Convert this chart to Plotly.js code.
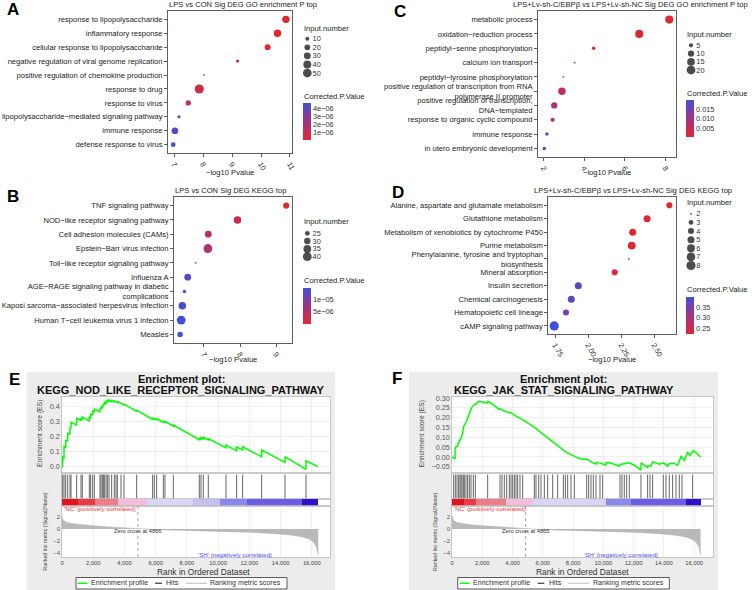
<!DOCTYPE html>
<html>
<head>
<meta charset="utf-8">
<script src="https://cdn.plot.ly/plotly-3.0.1.min.js"></script>
<style>
html,body{margin:0;padding:0;background:#fff;}
#chart{width:753px;height:590px;}
</style>
</head>
<body>
<div id="chart"></div>
<script>
// ================= DATA =================
// Panel A: LPS vs CON, GO enrichment
const termsA = ['response to lipopolysaccharide','inflammatory response','cellular response to lipopolysaccharide','negative regulation of viral genome replication','positive regulation of chemokine production','response to drug','response to virus','lipopolysaccharide\u2212mediated signaling pathway','immune response','defense response to virus'];
const logPA  = [10.86,10.57,10.23,9.19,8.03,7.87,7.49,7.17,7.03,6.97];
const countA = [35,35,22,8,6,55,17,8,28,14];
const padjA  = [1e-9,5e-9,2e-8,3e-7,5e-7,6e-7,1.6e-6,3.2e-6,4.2e-6,4.7e-6];
const sizeKeysA = [10,20,30,40,50];
const cbValsA = [1e-6,2e-6,3e-6,4e-6];
const cbTextA = ['1e\u221206','2e\u221206','3e\u221206','4e\u221206'];

// Panel B: LPS vs CON, KEGG
const termsB = ['TNF signaling pathway','NOD\u2212like receptor signaling pathway','Cell adhesion molecules (CAMs)','Epstein\u2212Barr virus infection','Toll\u2212like receptor signaling pathway','Influenza A','AGE\u2212RAGE signaling pathway in diabetic<br>complications','Kaposi sarcoma\u2212associated herpesvirus infection','Human T\u2212cell leukemia virus 1 infection','Measles'];
const logPB  = [9.28,7.93,7.12,7.11,6.77,6.55,6.46,6.40,6.37,6.34];
const countB = [29,34,31,40,22,31,23,34,40,27];
const padjB  = [1e-8,2.2e-6,5e-6,5.8e-6,9.5e-6,1.3e-5,1.38e-5,1.4e-5,1.42e-5,1.43e-5];
const sizeKeysB = [25,30,35,40];
const cbValsB = [5e-6,1e-5];
const cbTextB = ['5e\u221206','1e\u221205'];

// Panel C: LPS+Lv-sh-C/EBPb vs LPS+Lv-sh-NC, GO
const termsC = ['metabolic process','oxidation\u2212reduction process','peptidyl\u2212serine phosphorylation','calcium ion transport','peptidyl\u2212tyrosine phosphorylation','positive regulation of transcription from RNA<br>polymerase II promoter','positive regulation of transcription,<br>DNA\u2212templated','response to organic cyclic compound','immune response','in utero embryonic development'];
const logPC  = [8.19,6.71,4.46,3.53,2.97,2.90,2.52,2.44,2.16,2.03];
const countC = [17,17,4,3,3,14,10,5,4,4];
const padjC  = [0.0007,0.001,0.002,0.003,0.003,0.0055,0.009,0.0105,0.0145,0.0197];
const sizeKeysC = [5,10,15,20];
const cbValsC = [0.005,0.010,0.015];
const cbTextC = ['0.005','0.010','0.015'];

// Panel D: LPS+Lv-sh-C/EBPb vs LPS+Lv-sh-NC, KEGG
const termsD = ['Alanine, aspartate and glutamate metabolism','Glutathione metabolism','Metabolism of xenobiotics by cytochrome P450','Purine metabolism','Phenylalanine, tyrosine and tryptophan<br>biosynthesis','Mineral absorption','Insulin secretion','Chemical carcinogenesis','Hematopoietic cell lineage','cAMP signaling pathway'];
const logPD  = [2.614,2.445,2.336,2.329,2.306,2.20,1.924,1.871,1.831,1.742];
const countD = [4,5,5,6,2,4,5,5,4,8];
const padjD  = [0.223,0.226,0.226,0.226,0.226,0.235,0.378,0.375,0.36,0.402];
const sizeKeysD = [2,3,4,5,6,7,8];
const cbValsD = [0.25,0.30,0.35];
const cbTextD = ['0.25','0.30','0.35'];

// Panel E: GSEA KEGG_NOD_LIKE_RECEPTOR_SIGNALING_PATHWAY  [rank, ES]
const esCurveE = [[0,0],[43,-0.003],[43,0.065],[128,0.06],[128,0.135],[235,0.129],[235,0.178],[363,0.17],[363,0.225],[512,0.216],[512,0.262],[577,0.258],[577,0.298],[940,0.276],[940,0.325],[1217,0.308],[1217,0.322],[1302,0.317],[1302,0.332],[1750,0.305],[1750,0.33],[1836,0.325],[1836,0.352],[1964,0.344],[1964,0.372],[2071,0.366],[2071,0.386],[2434,0.364],[2434,0.386],[2498,0.382],[2498,0.398],[2584,0.393],[2584,0.408],[2648,0.404],[2648,0.418],[2712,0.414],[2712,0.428],[2819,0.422],[2819,0.437],[2904,0.432],[2904,0.443],[3011,0.437],[3011,0.444],[3182,0.434],[3182,0.442],[3353,0.432],[3353,0.438],[3460,0.432],[3460,0.436],[3545,0.431],[3545,0.434],[3780,0.42],[3780,0.425],[3972,0.413],[3972,0.418],[4783,0.369],[4783,0.377],[5808,0.315],[5808,0.322],[5915,0.316],[5915,0.323],[6065,0.314],[6065,0.321],[6492,0.295],[6492,0.302],[6598,0.296],[6598,0.303],[7132,0.271],[7132,0.278],[8797,0.18],[8797,0.19],[8904,0.184],[8904,0.194],[9053,0.186],[9053,0.196],[9373,0.178],[9373,0.188],[10506,0.126],[10506,0.145],[11189,0.106],[11189,0.133],[11573,0.111],[11573,0.133],[12790,0.066],[12790,0.111],[14286,0.029],[14286,0.067],[15631,-0.018],[15631,0.04],[16400,0]];
const hitsE = [43,128,235,363,512,577,940,1217,1302,1750,1836,1964,2071,2434,2498,2584,2648,2712,2819,2904,3011,3182,3353,3460,3545,3780,3972,4783,5808,5915,6065,6492,6598,7132,8797,8904,9053,9373,10506,11189,11573,12790,14286,15631];
const stripEdgesE = [0,1050,2114,3609,5424,8413,10122,11830,15352,16400];
const stripColorsE = ['#E3121F','#EA3A45','#F07C8A','#F5BDDB','#D8D5F7','#C5BFF4','#8A87EE','#6C5DE6','#2F10CC'];
const zeroCrossE = 4866;

// Panel F: GSEA KEGG_JAK_STAT_SIGNALING_PATHWAY  [rank, ES]
const esCurveF = [[0,0],[200,-0.01],[215,0.05],[370,0.055],[400,0.07],[480,0.075],[530,0.09],[590,0.092],[650,0.11],[700,0.117],[760,0.155],[820,0.16],[920,0.175],[1030,0.2],[1100,0.217],[1150,0.23],[1250,0.242],[1360,0.258],[1410,0.262],[1470,0.262],[1545,0.27],[1580,0.268],[1690,0.28],[1850,0.282],[2020,0.279],[2356,0.275],[2360,0.282],[2460,0.28],[2680,0.268],[3120,0.242],[3170,0.245],[3560,0.23],[3890,0.225],[4220,0.208],[4670,0.19],[5100,0.167],[5550,0.145],[5980,0.117],[6320,0.098],[6650,0.08],[6860,0.067],[7200,0.045],[7530,0.025],[7970,0.008],[8410,-0.008],[8630,-0.012],[8900,-0.012],[9070,-0.017],[9290,-0.03],[9510,-0.037],[9520,-0.028],[9730,-0.03],[10170,-0.042],[10180,-0.03],[10390,-0.03],[10720,-0.037],[11050,-0.047],[11100,-0.038],[11380,-0.033],[11710,-0.03],[12040,-0.042],[12483,-0.067],[12490,-0.03],[12920,-0.053],[12930,-0.045],[13140,-0.047],[13260,-0.025],[13700,-0.037],[13960,-0.03],[14250,-0.047],[14360,-0.033],[14690,-0.033],[14910,-0.042],[15130,0.003],[15350,-0.017],[15570,0.025],[15720,0.008],[15940,0.033],[16420,0]];
const hitsF = [110,220,330,440,528,594,660,749,815,925,1035,1145,1255,1409,1541,2356,3170,3302,3457,3611,3787,3897,4007,4117,4227,4337,4491,4667,5438,5548,5724,5879,6099,6319,6649,6979,7354,7486,7640,7860,8080,8895,9027,9181,9335,9511,9775,9951,11096,11228,11382,11537,11713,12483,12923,13078,13254,13958,14134,14354,14574,14795,15015,15191,15896];
const stripEdgesF = [0,800,1585,3567,5328,10172,11823,15436,16420];
const stripColorsF = ['#E3121F','#EA3A45','#F07C8A','#F5BDDB','#D8D5F7','#8A87EE','#6C5DE6','#2F10CC'];
const zeroCrossF = 4865;

// Ranked list metric (Signal2Noise), shared ranking
const metricRank = [0,30,100,300,700,1200,2000,3000,4000,4866,6000,8000,10000,12000,13500,14500,15300,15800,16100,16300,16420];
const metricVal  = [2.2,1.7,1.35,1.05,0.85,0.7,0.52,0.33,0.15,0,-0.12,-0.25,-0.38,-0.55,-0.75,-0.95,-1.25,-1.6,-2.1,-2.9,-4.3];

const gseaLegendLabels = ['Enrichment profile','Hits','Ranking metric scores'];
const gseaLegendColors = ['#00FF00','#555555','#CCCCCC'];

// ================= STYLE HELPERS =================
const W = 753, H = 590;
const fx = p => p / W;
const fy = p => 1 - p / H;
const FONT = '"Liberation Sans", Arial, sans-serif';
const CSCALE = [[0,'#DC2A30'],[0.25,'#C42C5C'],[0.5,'#A03484'],[0.75,'#7440B0'],[1,'#3D50D6']];
function diam(n, lo, hi){ return 1.8 + 7.4*Math.sqrt(Math.max(0, n-lo)/(hi-lo)); }

const traces = [];
const layout = {
  width: W, height: H, margin:{l:0,r:0,t:0,b:0},
  paper_bgcolor:'#ffffff', plot_bgcolor:'#ffffff',
  showlegend:false, hovermode:false,
  font:{family:FONT, size:7.7, color:'#222'},
  shapes:[], annotations:[]
};

function txt(text, px, py, o, fs){
  return Object.assign({text:text, x:fx(px), y:fy(py), xref:'paper', yref:'paper', showarrow:false,
    xanchor:'center', yanchor:'middle', borderpad:0, font:{family:FONT, size:fs||7.7, color:'#222'}}, o||{});
}

// ---------- dot plot panels ----------
const panels = [
  {terms:termsA, x:logPA, n:countA, p:padjA, lo:6, hi:56, keys:sizeKeysA, cbVals:cbValsA, cbText:cbTextA, cmin:0, cmax:4.7e-6,
   box:[168,292,11,153], xr:[6.79,11.07], ticks:[7,8,9,10,11], tf:'', id:'', key:'5', fs:7.6,
   title:'LPS vs CON Sig DEG GO enrichment P top', tpos:[167.7,4.8], xt:[230.3,173],
   legX:307.3, legY:[34.4,77.3], cb:[302.7,103,37], inTitle:[302.7,28], cpTitle:[302.7,96.7]},
  {terms:termsB, x:logPB, n:countB, p:padjB, lo:22, hi:42, keys:sizeKeysB, cbVals:cbValsB, cbText:cbTextB, cmin:0, cmax:1.43e-5,
   box:[174,292,197,343], xr:[6.17,9.44], ticks:[7,8,9], tf:'', id:'2', key:'6', fs:7.6,
   title:'LPS vs CON Sig DEG KEGG top', tpos:[174,190], xt:[233,359.5],
   legX:307.3, legY:[229.4,260.6], cb:[302.7,288.3,36], inTitle:[302.7,221.7], cpTitle:[302.7,280.5]},
  {terms:termsC, x:logPC, n:countC, p:padjC, lo:3, hi:22, keys:sizeKeysC, cbVals:cbValsC, cbText:cbTextC, cmin:0.0007, cmax:0.0197,
   box:[538,676,11,157], xr:[1.72,8.52], ticks:[2,4,6,8], tf:'', id:'3', key:'7', fs:7.6,
   title:'LPS+Lv-sh-C/EBP\u03B2 vs LPS+Lv-sh-NC Sig DEG GO enrichment P top', tpos:[512,4.8], xt:[607,173],
   legX:691, legY:[41.2,74.1], cb:[686,100,36.7], inTitle:[686,34.3], cpTitle:[686,94]},
  {terms:termsD, x:logPD, n:countD, p:padjD, lo:2, hi:8, keys:sizeKeysD, cbVals:cbValsD, cbText:cbTextD, cmin:0.2226, cmax:0.402,
   box:[548.3,676,197.3,334], xr:[1.697,2.664], ticks:[1.75,2,2.25,2.5], tf:'.2f', id:'4', key:'8', fs:7.6,
   title:'LPS+Lv-sh-C/EBP\u03B2 vs LPS+Lv-sh-NC Sig DEG KEGG top', tpos:[533,190.7], xt:[612,359.5],
   legX:691, legY:[209.5,269.8], cb:[686,296.7,36.6], inTitle:[686,202.7], cpTitle:[686,289.3]}
];

panels.forEach(pn => {
  const xa = 'x'+pn.id, ya = 'y'+pn.id;
  const [L,R,T,B] = pn.box;
  const tfs = pn.fs - 0.2;
  layout['xaxis'+pn.id] = {domain:[fx(L),fx(R)], range:pn.xr, anchor:ya, tickvals:pn.ticks, tickformat:pn.tf,
    tickangle:60, ticks:'outside', ticklen:3, tickwidth:0.8, tickcolor:'#333', showline:true, mirror:true,
    linecolor:'#4d4d4d', linewidth:0.9, showgrid:false, zeroline:false, automargin:false,
    tickfont:{family:FONT, size:tfs, color:'#333'}};
  layout['yaxis'+pn.id] = {domain:[fy(B),fy(T)], type:'category', categoryorder:'array', categoryarray:pn.terms,
    range:[pn.terms.length-1+0.6, -0.6], anchor:xa, ticks:'outside', ticklen:3, tickwidth:0.8, tickcolor:'#333',
    showline:true, mirror:true, linecolor:'#4d4d4d', linewidth:0.9, showgrid:false, zeroline:false, automargin:false,
    tickfont:{family:FONT, size:pn.fs, color:'#222'}};
  traces.push({type:'scatter', mode:'markers', x:pn.x, y:pn.terms, xaxis:xa, yaxis:ya, cliponaxis:false,
    marker:{size:pn.n.map(v=>diam(v,pn.lo,pn.hi)), color:pn.p, cmin:pn.cmin, cmax:pn.cmax, colorscale:CSCALE,
      line:{width:0}, opacity:1, showscale:true,
      colorbar:{x:fx(pn.cb[0]), xanchor:'left', y:fy(pn.cb[1]), yanchor:'top', len:pn.cb[2], lenmode:'pixels',
        thickness:8, thicknessmode:'pixels', xpad:0, ypad:0, outlinewidth:0, borderwidth:0,
        tickvals:pn.cbVals, ticktext:pn.cbText, ticks:'', tickfont:{family:FONT, size:tfs, color:'#333'}}},
    showlegend:false, hoverinfo:'skip'});
  // size legend
  const kx = 'x'+pn.key, ky = 'y'+pn.key;
  const keyLabels = pn.keys.map(String);
  layout['xaxis'+pn.key] = {domain:[fx(pn.legX-4.3), fx(pn.legX+4.3)], range:[-1,1], anchor:ky, visible:false, fixedrange:true};
  layout['yaxis'+pn.key] = {domain:[fy(pn.legY[1]), fy(pn.legY[0])], type:'category', categoryorder:'array',
    categoryarray:keyLabels, tickmode:'array', tickvals:keyLabels, ticktext:keyLabels,
    range:[pn.keys.length-0.5, -0.5], anchor:kx, side:'right',
    showline:false, ticks:'', showgrid:false, zeroline:false, automargin:false,
    tickfont:{family:FONT, size:tfs, color:'#333'}};
  traces.push({type:'scatter', mode:'markers', x:pn.keys.map(()=>0), y:keyLabels, xaxis:kx, yaxis:ky,
    cliponaxis:false, marker:{size:pn.keys.map(v=>diam(v,pn.lo,pn.hi)), color:'#000', line:{width:0}},
    showlegend:false, hoverinfo:'skip'});
  layout.annotations.push(txt('Input.number', pn.inTitle[0], pn.inTitle[1], {xanchor:'left'}, pn.fs));
  layout.annotations.push(txt('Corrected.P.Value', pn.cpTitle[0], pn.cpTitle[1], {xanchor:'left'}, pn.fs));
  layout.annotations.push(txt(pn.title, pn.tpos[0], pn.tpos[1], {xanchor:'left'}, pn.fs));
  layout.annotations.push(txt('\u2212log10 Pvalue', pn.xt[0], pn.xt[1], {}, pn.fs));
});

[['A',13,10],['B',13,196],['C',400,11],['D',398,192],['E',14,379],['F',397,378]].forEach(l =>
  layout.annotations.push(txt('<b>'+l[0]+'</b>', l[1], l[2], {font:{family:FONT,size:17,color:'#000'}})));

// ---------- GSEA panels ----------
const gsea = [
  {curve:esCurveE, hits:hitsE, edges:stripEdgesE, colors:stripColorsE, zc:zeroCrossE, L:62, R:330, xmax:17170,
   esRange:[-0.042,0.465], esTicks:[0,0.1,0.2,0.3,0.4], esFmt:'.1f', ids:['9','10','11','12'], bg:[27,335],
   title:'KEGG_NOD_LIKE_RECEPTOR_SIGNALING_PATHWAY', tcx:181, esLab:40, rlLab:45, rankLab:203,
   nc:63, sh:196.7, leg:{box:[76,287], items:[[77.5,87.5,89.5],[155,162,165],[186,207,209.5]]}},
  {curve:esCurveF, hits:hitsF, edges:stripEdgesF, colors:stripColorsF, zc:zeroCrossF, L:452, R:713.3, xmax:17260,
   esRange:[-0.0815,0.305], esTicks:[-0.05,0,0.05,0.1,0.15,0.2,0.25,0.3], esFmt:'.2f', ids:['13','14','15','16'], bg:[409,718],
   title:'KEGG_JAK_STAT_SIGNALING_PATHWAY', tcx:563.5, esLab:422.3, rlLab:434.3, rankLab:582.3,
   nc:453.3, sh:582.7, leg:{box:[457.7,669.3], items:[[460,469.5,472],[537.7,544.3,547.7],[568,589,592]]}}
];
const rows = [[397,473],[473,499],[499,506],[506,557]];
const rankRange = [-4.6,3.75];

gsea.forEach(g => {
  layout.shapes.push({type:'rect', xref:'paper', yref:'paper', x0:fx(g.bg[0]), x1:fx(g.bg[1]), y0:fy(590), y1:fy(372),
    fillcolor:'#ECECEC', line:{width:0}, layer:'below'});
  layout.shapes.push({type:'rect', xref:'paper', yref:'paper', x0:fx(g.L), x1:fx(g.R), y0:fy(557), y1:fy(397),
    fillcolor:'#FFFFFF', line:{width:0}, layer:'below'});
  const baseX = {domain:[fx(g.L),fx(g.R)], range:[0,g.xmax], showline:true, mirror:true, linecolor:'#BDBDBD', linewidth:0.8,
    zeroline:false, automargin:false, fixedrange:true, dtick:2000, tick0:0};
  const baseY = {showline:true, mirror:true, linecolor:'#BDBDBD', linewidth:0.8, zeroline:false, automargin:false, fixedrange:true};
  g.ids.forEach((id,i) => {
    const ax = Object.assign({}, baseX, {anchor:'y'+id, showticklabels:i===3, ticks:'', ticklen:0,
      tickformat:',d', showgrid:(i===0||i===3), gridcolor:'#E4E4E4', gridwidth:0.6,
      tickfont:{family:FONT,size:5.8,color:'#444'}});
    const ay = Object.assign({}, baseY, {domain:[fy(rows[i][1]), fy(rows[i][0])], anchor:'x'+id});
    if(i===0){ Object.assign(ay, {range:g.esRange, tickvals:g.esTicks, tickformat:g.esFmt, showgrid:true, gridcolor:'#E4E4E4',
      gridwidth:0.6, ticks:'', tickfont:{family:FONT,size:7.2,color:'#555'}}); }
    else if(i===3){ Object.assign(ay, {range:rankRange, tickvals:[-4,-2,0,2], showgrid:false, ticks:'',
      tickfont:{family:FONT,size:6,color:'#555'}}); }
    else { Object.assign(ay, {range:[0,1], showticklabels:false, showgrid:false, ticks:''}); }
    layout['xaxis'+id] = ax; layout['yaxis'+id] = ay;
  });
  const [esId, hitId, stripId, rkId] = g.ids;
  traces.push({type:'scatter', mode:'lines', x:metricRank, y:metricVal, xaxis:'x'+rkId, yaxis:'y'+rkId,
    fill:'tozeroy', fillcolor:'#B9B9B9', line:{color:'#AAAAAA', width:0.5}, hoverinfo:'skip', showlegend:false});
  traces.push({type:'scatter', mode:'lines', x:[g.zc,g.zc], y:rankRange, xaxis:'x'+rkId, yaxis:'y'+rkId,
    line:{color:'#888', width:0.8, dash:'dot'}, hoverinfo:'skip', showlegend:false});
  const hx = [], hy = [];
  g.hits.forEach(h => { hx.push(h,h,null); hy.push(0,0.94,null); });
  traces.push({type:'scatter', mode:'lines', x:hx, y:hy, xaxis:'x'+hitId, yaxis:'y'+hitId,
    line:{color:'#555555', width:0.9}, hoverinfo:'skip', showlegend:false, connectgaps:false});
  const n = g.colors.length;
  traces.push({type:'heatmap', x:g.edges, y:[0,1], z:[g.colors.map((c,i)=>i)], zmin:0, zmax:n-1,
    colorscale:g.colors.map((c,i)=>[i/(n-1), c]), showscale:false, xaxis:'x'+stripId, yaxis:'y'+stripId, hoverinfo:'skip'});
  traces.push({type:'scatter', mode:'lines', x:g.curve.map(d=>d[0]), y:g.curve.map(d=>d[1]), xaxis:'x'+esId, yaxis:'y'+esId,
    line:{color:'#00FF00', width:1.5}, hoverinfo:'skip', showlegend:false});
  layout.annotations.push(txt('<b>Enrichment plot:</b>', g.tcx, 378.5, {font:{family:FONT,size:11,color:'#111'}}));
  layout.annotations.push(txt('<b>'+g.title+'</b>', g.tcx, 390, {font:{family:FONT,size:11,color:'#111'}}));
  layout.annotations.push(txt('Enrichment score (ES)', g.esLab, 434, {textangle:-90, font:{family:FONT,size:6.7,color:'#444'}}));
  layout.annotations.push(txt('Ranked list metric (Signal2Noise)', g.rlLab, 531.7, {textangle:-90, font:{family:FONT,size:5.3,color:'#444'}}));
  layout.annotations.push(txt('Rank in Ordered Dataset', g.rankLab, 571.5, {font:{family:FONT,size:8.4,color:'#333'}}));
  layout.annotations.push(txt("'NC' (positively correlated)", g.nc, 508.6, {xanchor:'left', font:{family:FONT,size:6.2,color:'#F03030'}}));
  layout.annotations.push(txt("'SH' (negatively correlated)", g.sh, 554.2, {xanchor:'left', font:{family:FONT,size:6.2,color:'#4B4BFF'}}));
  layout.annotations.push({text:'Zero cross at '+g.zc, x:g.zc, y:-0.4, xref:'x'+rkId, yref:'y'+rkId, showarrow:false,
    xanchor:'center', yanchor:'middle', font:{family:FONT,size:5.7,color:'#333'}});
  layout.shapes.push({type:'rect', xref:'paper', yref:'paper', x0:fx(g.leg.box[0]), x1:fx(g.leg.box[1]), y0:fy(589), y1:fy(577.5),
    fillcolor:'#FFFFFF', line:{color:'#333', width:0.8}});
  gseaLegendLabels.forEach((lab,i) => {
    const it = g.leg.items[i];
    layout.shapes.push({type:'line', xref:'paper', yref:'paper', x0:fx(it[0]), x1:fx(it[1]), y0:fy(583.3), y1:fy(583.3),
      line:{color:gseaLegendColors[i], width:1.4}});
    layout.annotations.push(txt(lab, it[2], 583.3, {xanchor:'left', font:{family:FONT,size:7.1,color:'#333'}}));
  });
});

Plotly.newPlot('chart', traces, layout, {staticPlot:true, displayModeBar:false});
</script>
</body>
</html>
